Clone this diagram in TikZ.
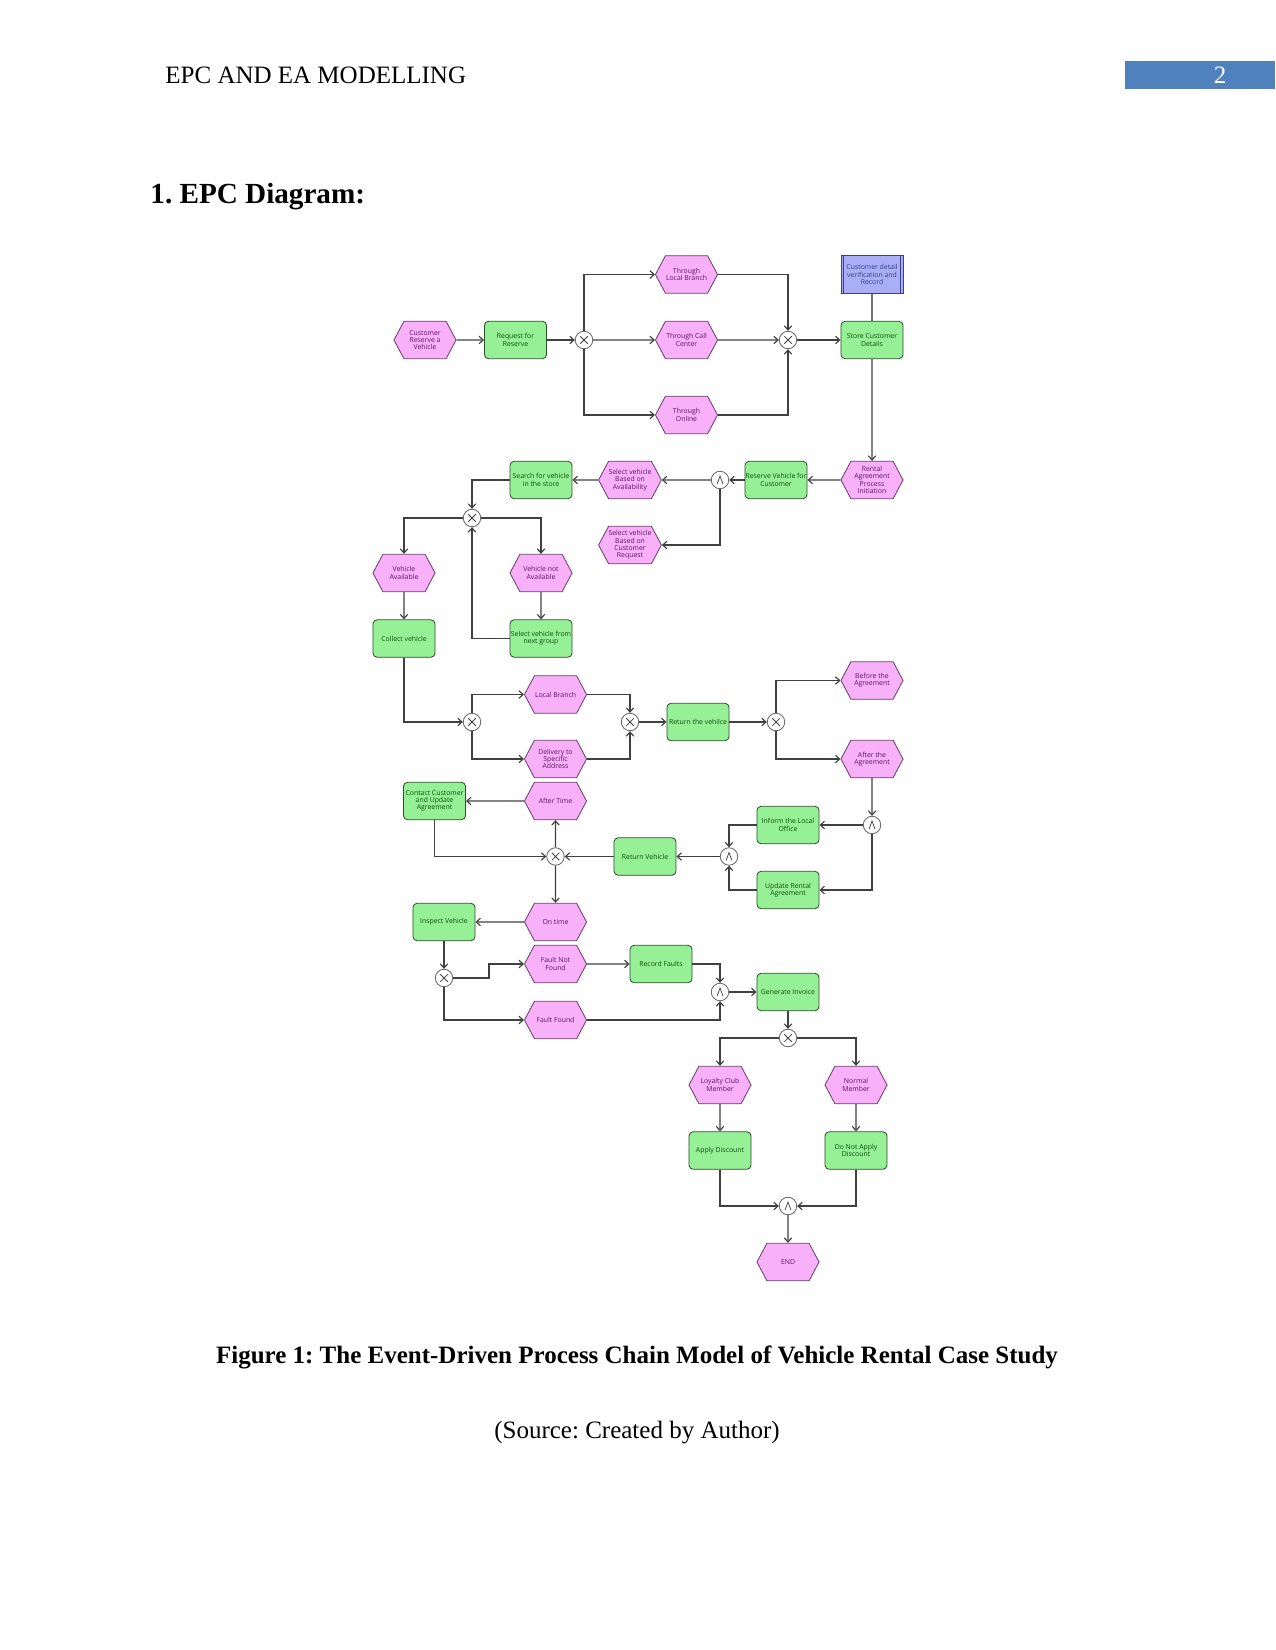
\documentclass[tikz,border=0pt]{standalone}
\usepackage{fontspec}
\setmainfont{Liberation Serif}
\newfontfamily\epcfont{Open Sans}
\usetikzlibrary{arrows.meta,shapes.symbols}
\frenchspacing

\definecolor{evfill}{HTML}{F8B0F8}
\definecolor{evline}{HTML}{6A3F6E}
\definecolor{evtext}{HTML}{5A1468}
\definecolor{fnfill}{HTML}{96F096}
\definecolor{fnline}{HTML}{2F4F2F}
\definecolor{fntext}{HTML}{0C4F0C}
\definecolor{bxfill}{HTML}{AAAEF6}
\definecolor{bxline}{HTML}{3C407E}
\definecolor{pageblue}{HTML}{4F81BD}

\tikzset{
  epctext/.style={font=\epcfont\fontsize{3.3pt}{3.5pt}\selectfont, align=center, inner sep=0pt},
  event/.style={epctext, signal, signal to=east and west, signal pointer angle=124,
    draw=evline, fill=evfill, text=evtext, minimum width=29.8pt, minimum height=18pt},
  func/.style={epctext, rectangle, rounded corners=2pt, draw=fnline, fill=fnfill,
    text=fntext, minimum width=29.8pt, minimum height=18pt},
  infobox/.style={epctext, rectangle, draw=bxline, fill=bxfill, text=bxline,
    minimum width=29.8pt, minimum height=18pt,
    path picture={\draw[bxline] ([xshift=1.3pt]path picture bounding box.south west) -- ([xshift=1.3pt]path picture bounding box.north west)
      ([xshift=-1.3pt]path picture bounding box.south east) -- ([xshift=-1.3pt]path picture bounding box.north east);}},
  gate/.style={circle, draw=black!60, fill=white, minimum size=8.4pt, inner sep=0pt},
  xorgate/.style={gate, path picture={\draw[black!75, line width=0.35pt]
    ([shift={(-1.8pt,-1.8pt)}]path picture bounding box.center) -- ++(3.6pt,3.6pt)
    ([shift={(-1.8pt,1.8pt)}]path picture bounding box.center) -- ++(3.6pt,-3.6pt);}},
  andgate/.style={gate, path picture={\draw[black!75, line width=0.35pt]
    ([shift={(-1.4pt,-1.9pt)}]path picture bounding box.center) -- ++(1.4pt,3.8pt) -- ++(1.4pt,-3.8pt);}},
  flow/.style={draw=black!75, line width=0.55pt, -{Straight Barb[length=2pt,width=3.6pt]}},
  link/.style={draw=black!55, line width=0.8pt}
}

\begin{document}
\begin{tikzpicture}[x=0.48pt,y=-0.48pt]
\useasboundingbox (0,0) rectangle (1275,1650);

% page text
\node[anchor=west, font=\fontsize{12pt}{14pt}\selectfont, inner sep=0pt] (head) at (165,75) {EPC AND EA MODELLING};
\fill[pageblue] (1125,61) rectangle (1275,89.5);
\node[text=white, font=\fontsize{12pt}{14pt}\selectfont, inner sep=0pt] (pagenum) at (1220,75) {2};
\node[anchor=west, font=\bfseries\fontsize{14pt}{16pt}\selectfont, inner sep=0pt] (title) at (150,196.5) {1. EPC Diagram:};

% first row: reservation channels
\node[event] (crv) at (425,340) {Customer\\Reserve a\\Vehicle};
\node[func] (rfr) at (515.5,340) {Request for\\Reserve};
\node[xorgate] (x1) at (584,340) {};
\node[event] (tlb) at (686.5,274.5) {Through\\Local Branch};
\node[event] (tcc) at (686.5,340) {Through Call\\Center};
\node[event] (ton) at (686.5,415) {Through\\Online};
\node[xorgate] (x2) at (788,340) {};
\node[func] (scd) at (872,340) {Store Customer\\Details};
\node[infobox] (cdv) at (872,274.5) {Customer detail\\verification and\\Record};

% vehicle selection
\node[event] (rapi) at (872,480) {Rental\\Agreement\\Process\\Initiation};
\node[func] (rvc) at (776,480) {Reserve Vehicle for\\Customer};
\node[andgate] (a1) at (720,480) {};
\node[event] (sva) at (630,480) {Select vehicle\\Based on\\Availability};
\node[func] (sfv) at (541,480) {Search for vehicle\\in the store};
\node[xorgate] (x3) at (472,518) {};
\node[event] (svr) at (630,545) {Select vehicle\\Based on\\Customer\\Request};
\node[event] (va) at (404,573) {Vehicle\\Available};
\node[event] (vna) at (541,573) {Vehicle not\\Available};
\node[func] (cv) at (404,638.5) {Collect vehicle};
\node[func] (svn) at (541,638.5) {Select vehicle from\\next group};

% return
\node[xorgate] (x4) at (472,722) {};
\node[event] (lb) at (555.5,694.5) {Local Branch};
\node[event] (dsa) at (555.5,759) {Delivery to\\Specific\\Address};
\node[xorgate] (x5) at (630,722) {};
\node[func] (rtv) at (698,722) {Return the vehilce};
\node[xorgate] (x6) at (776,722) {};
\node[event] (bta) at (872,680.5) {Before the\\Agreement};
\node[event] (ata) at (872,759) {After the\\Agreement};
\node[andgate] (a2) at (872,825) {};
\node[func] (ilo) at (788,825) {Inform the Local\\Office};
\node[func] (ura) at (788,890) {Update Rental\\Agreement};
\node[andgate] (a3) at (729,856.5) {};
\node[func] (rv) at (645,856.5) {Return Vehicle};
\node[xorgate] (x7) at (555.5,856.5) {};
\node[event] (at) at (555.5,801) {After Time};
\node[func] (ccu) at (434.5,801) {Contact Customer\\and Update\\Agreement};

% inspection and invoice
\node[event] (ot) at (555.5,922) {On time};
\node[func] (iv) at (444,922) {Inspect Vehicle};
\node[xorgate] (x8) at (444,978) {};
\node[event] (fnf) at (555.5,964) {Fault Not\\Found};
\node[event] (ff) at (555.5,1020) {Fault Found};
\node[func] (rf) at (661,964) {Record Faults};
\node[andgate] (a4) at (720,992) {};
\node[func] (gi) at (788,992) {Generate Invoice};
\node[xorgate] (x9) at (788,1038) {};
\node[event] (lcm) at (720,1085) {Loyalty Club\\Member};
\node[event] (nm) at (856,1085) {Normal\\Member};
\node[func] (ad) at (720,1150.5) {Apply Discount};
\node[func] (dna) at (856,1150.5) {Do Not Apply\\Discount};
\node[andgate] (a5) at (788,1206) {};
\node[event] (fin) at (788,1262) {END};

% connectors
\draw[flow] (crv) -- (rfr);
\draw[flow] (rfr) -- (x1);
\draw[flow] (x1) |- (tlb);
\draw[flow] (x1) -- (tcc);
\draw[flow] (x1) |- (ton);
\draw[flow] (tlb) -| (x2);
\draw[flow] (tcc) -- (x2);
\draw[flow] (ton) -| (x2);
\draw[flow] (x2) -- (scd);
\draw[link] (cdv) -- (scd);
\draw[flow] (scd) -- (rapi);
\draw[flow] (rapi) -- (rvc);
\draw[flow] (rvc) -- (a1);
\draw[flow] (a1) -- (sva);
\draw[flow] (a1) |- (svr);
\draw[flow] (sva) -- (sfv);
\draw[flow] (sfv) -| (x3);
\draw[flow] (x3) -| (va);
\draw[flow] (x3) -| (vna);
\draw[flow] (va) -- (cv);
\draw[flow] (vna) -- (svn);
\draw[flow] (svn) -| (x3);
\draw[flow] (cv) |- (x4);
\draw[flow] (x4) |- (lb);
\draw[flow] (x4) |- (dsa);
\draw[flow] (lb) -| (x5);
\draw[flow] (dsa) -| (x5);
\draw[flow] (x5) -- (rtv);
\draw[flow] (rtv) -- (x6);
\draw[flow] (x6) |- (bta);
\draw[flow] (x6) |- (ata);
\draw[flow] (ata) -- (a2);
\draw[flow] (a2) -- (ilo);
\draw[flow] (a2) |- (ura);
\draw[flow] (ilo) -| (a3);
\draw[flow] (ura) -| (a3);
\draw[flow] (a3) -- (rv);
\draw[flow] (rv) -- (x7);
\draw[flow] (x7) -- (at);
\draw[flow] (at) -- (ccu);
\draw[flow] (ccu) |- (x7);
\draw[flow] (x7) -- (ot);
\draw[flow] (ot) -- (iv);
\draw[flow] (iv) -- (x8);
\draw[flow] (x8) -- ++(45,0) |- (fnf);
\draw[flow] (x8) |- (ff);
\draw[flow] (fnf) -- (rf);
\draw[flow] (rf) -| (a4);
\draw[flow] (ff) -| (a4);
\draw[flow] (a4) -- (gi);
\draw[flow] (gi) -- (x9);
\draw[flow] (x9) -| (lcm);
\draw[flow] (x9) -| (nm);
\draw[flow] (lcm) -- (ad);
\draw[flow] (nm) -- (dna);
\draw[flow] (ad) |- (a5);
\draw[flow] (dna) |- (a5);
\draw[flow] (a5) -- (fin);

% caption
\node[font=\bfseries\fontsize{12pt}{14pt}\selectfont, inner sep=0pt] (caption) at (637,1357) {Figure 1: The Event-Driven Process Chain Model of Vehicle Rental Case Study};
\node[font=\fontsize{12pt}{14pt}\selectfont, inner sep=0pt] (source) at (637,1433) {(Source: Created by Author)};
\end{tikzpicture}
\end{document}
